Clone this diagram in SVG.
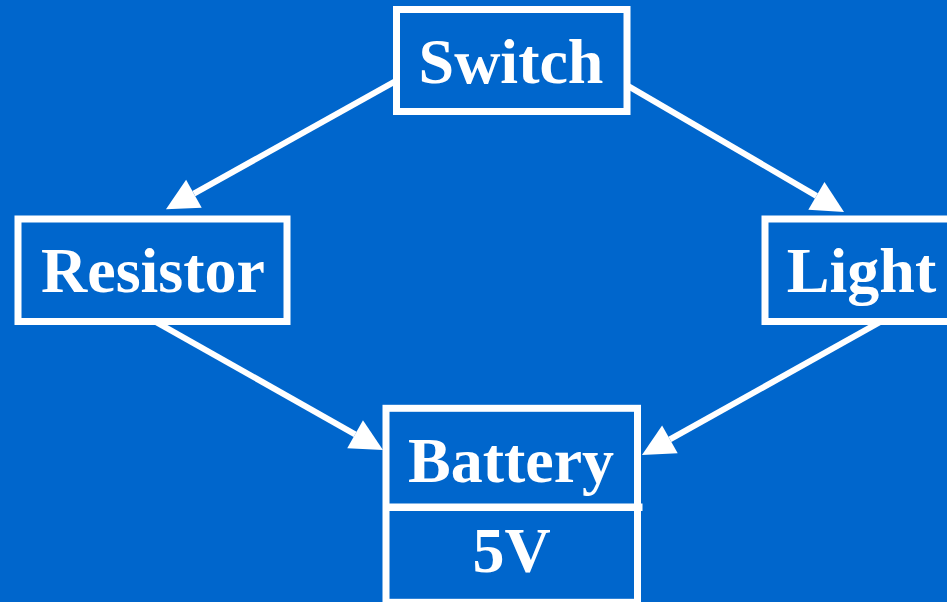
<svg xmlns="http://www.w3.org/2000/svg" width="947" height="602" viewBox="0 0 947 602">
<defs>
<style>
.box{fill:#0066cc;stroke:#ffffff;stroke-width:7}
.lbl{fill:#ffffff;font-family:"Liberation Serif","Times New Roman",serif;font-weight:bold;font-size:64px;text-anchor:middle}
.edge{stroke:#ffffff;stroke-width:6;fill:none;marker-end:url(#arrow)}
</style>
<marker id="arrow" markerUnits="userSpaceOnUse" markerWidth="34" markerHeight="34" viewBox="0 -17 34 34" refX="0" refY="0" orient="auto" overflow="visible">
<path d="M0,-16 L32,0 L0,16 Z" fill="#ffffff"/>
</marker>
</defs>
<rect x="0" y="0" width="947" height="602" fill="#0066cc"/>
<g id="connectors">
<line class="edge" x1="396" y1="80.8" x2="193.9" y2="193.7"/>
<line class="edge" x1="627" y1="85.3" x2="816.4" y2="195.9"/>
<line class="edge" x1="154" y1="320.9" x2="355.1" y2="434.3"/>
<line class="edge" x1="882" y1="320.9" x2="669.9" y2="439.4"/>
</g>
<g id="switch">
<rect class="box" x="396.5" y="9.5" width="230.5" height="102"/>
<text class="lbl" x="511" y="83.3">Switch</text>
</g>
<g id="resistor">
<rect class="box" x="18" y="219" width="269" height="102.5"/>
<text class="lbl" x="153" y="292">Resistor</text>
</g>
<g id="light">
<rect class="box" x="765" y="219" width="193" height="102.5"/>
<text class="lbl" x="861.5" y="292">Light</text>
</g>
<g id="battery">
<rect class="box" x="386" y="408.3" width="251.5" height="194"/>
<line x1="386" y1="507.2" x2="642.5" y2="507.2" stroke="#ffffff" stroke-width="7.5"/>
<text class="lbl" x="511" y="482.3">Battery</text>
<text class="lbl" x="511.5" y="571.7">5V</text>
</g>
</svg>
